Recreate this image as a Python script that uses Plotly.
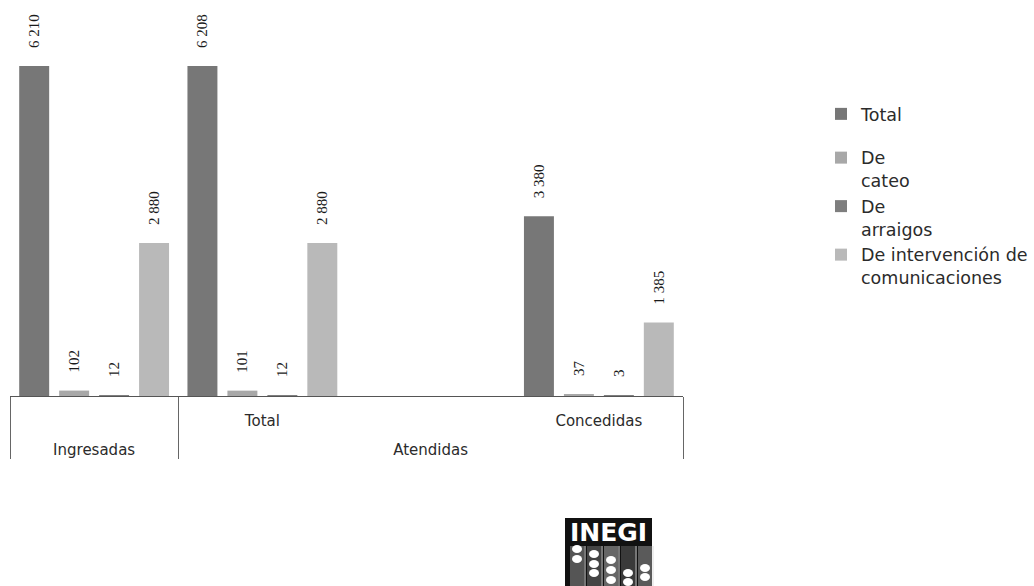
import plotly.graph_objects as go

# Solicitudes de técnicas de investigación, por estado de la solicitud
grupos = ["\u00a0<br>Ingresadas", "\u00a0<br>Atendidas", "\u00a0<br>Atendidas", "\u00a0<br>Atendidas"]
subgrupos = [" ", "Total", "  ", "Concedidas"]

series = ["Total", "De<br>cateo", "De<br>arraigos", "De intervención de<br>comunicaciones"]
grupos_leyenda = ["total", "tipo", "tipo", "tipo"]
total = [6210, 6208, None, 3380]
cateo = [102, 101, None, 37]
arraigos = [12, 12, None, 3]
intervencion = [2880, 2880, None, 1385]

colores = ["#777777", "#a8a8a8", "#7e7e7e", "#b9b9b9"]

W, H = 1034, 586
L, R, T, B = 10, 351, 20, 190
PW, PH = W - L - R, H - T - B


def fmt(v):
    if v is None:
        return ""
    # leading no-break spaces lift the rotated label clear of the bar top
    return "\u00a0\u00a0\u00a0\u00a0" + f"{v:,}".replace(",", " ")


fig = go.Figure()
for nombre, grupo, valores, color in zip(series, grupos_leyenda,
                                         [total, cateo, arraigos, intervencion], colores):
    fig.add_trace(go.Bar(
        x=[grupos, subgrupos],
        y=valores,
        name=nombre,
        legendgroup=grupo,
        marker=dict(color=color, line=dict(width=0)),
        text=[fmt(v) for v in valores],
        textposition="outside",
        textangle=-90,
        constraintext="none",
        cliponaxis=False,
        textfont=dict(family="Liberation Serif", size=15, color="#1a1a1a"),
        hoverinfo="skip",
    ))


def px_x(p):
    return (p - L) / PW


def px_y(p):
    return (H - B - p) / PH


# INEGI mark below the chart
shapes = [dict(type="rect", xref="paper", yref="paper",
               x0=px_x(565), x1=px_x(652), y0=px_y(590), y1=px_y(518),
               fillcolor="#111111", line=dict(width=0), layer="above")]
for xc, shade in [(577, "#555555"), (594, "#444444"), (611, "#666666"), (628, "#3a3a3a"), (645, "#5a5a5a")]:
    shapes.append(dict(type="rect", xref="paper", yref="paper",
                       x0=px_x(xc - 7), x1=px_x(xc + 7), y0=px_y(590), y1=px_y(546),
                       fillcolor=shade, line=dict(width=0), layer="above"))
    shapes.append(dict(type="line", xref="paper", yref="paper",
                       x0=px_x(xc + 8), x1=px_x(xc + 8), y0=px_y(590), y1=px_y(546),
                       line=dict(color="#dddddd", width=1), layer="above"))
cuentas = {577: [549, 559], 594: [554, 564, 573], 611: [560, 570, 580], 628: [573, 582], 645: [568, 577]}
for xc, ys in cuentas.items():
    for yc in ys:
        shapes.append(dict(type="circle", xref="paper", yref="paper",
                           x0=px_x(xc - 5), x1=px_x(xc + 5), y0=px_y(yc + 4), y1=px_y(yc - 4),
                           fillcolor="white", line=dict(width=0), layer="above"))

fig.update_layout(
    width=W, height=H,
    margin=dict(l=L, r=R, t=T, b=B, autoexpand=False),
    paper_bgcolor="white", plot_bgcolor="white",
    barmode="group", bargap=0.05, bargroupgap=0.25,
    font=dict(family="DejaVu Sans", size=15, color="#2b2b2b"),
    showlegend=True,
    legend=dict(x=px_x(821), xanchor="left", y=px_y(96), yanchor="top",
                valign="top", tracegroupgap=18, groupclick="toggleitem",
                font=dict(family="DejaVu Sans", size=17.5, color="#2b2b2b"),
                bgcolor="rgba(0,0,0,0)", itemwidth=30, itemclick=False),
    xaxis=dict(type="multicategory", showline=True, linecolor="#555555", linewidth=1,
               showdividers=True, dividercolor="#666666", dividerwidth=1,
               ticklabelstandoff=11,
               tickfont=dict(family="DejaVu Sans", size=15, color="#2b2b2b"),
               showgrid=False, zeroline=False),
    yaxis=dict(visible=False, range=[0, 7075]),
    shapes=shapes,
    annotations=[dict(text="<b>INEGI</b>", xref="paper", yref="paper",
                      x=px_x(608), y=px_y(532), xanchor="center", yanchor="middle",
                      showarrow=False, font=dict(family="DejaVu Sans", size=25, color="white"))],
)

fig.write_html("out.html")
